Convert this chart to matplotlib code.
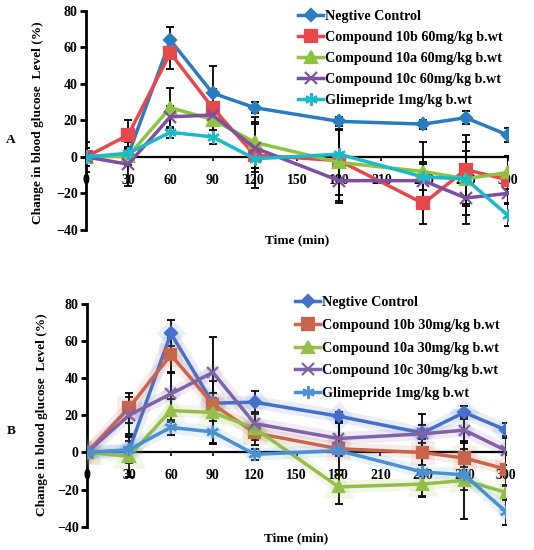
import matplotlib.pyplot as plt
import matplotlib.patheffects as pe

plt.rcParams['font.family'] = ['Liberation Serif', 'DejaVu Serif']
plt.rcParams['font.weight'] = 'bold'

time_min = [0, 30, 60, 90, 120, 180, 240, 270, 300]
x_ticks = [0, 30, 60, 90, 120, 150, 180, 210, 240, 270, 300]
y_ticks = [-40, -20, 0, 20, 40, 60, 80]

# panel A (60 mg/kg)
labels_a = ["Negtive Control", "Compound 10b 60mg/kg b.wt", "Compound 10a 60mg/kg b.wt",
            "Compound 10c 60mg/kg b.wt", "Glimepride 1mg/kg b.wt"]
neg_a = [0, 1, 64, 35, 27, 19.5, 18, 21.5, 12]
c10b_a = [0, 12, 57, 27, 1, -2, -25.5, -7, -12.5]
c10a_a = [0, 0.5, 27, 20.5, 8, -3, -8, -12, -8.5]
c10c_a = [0, -4, 22, 23, 5, -13, -13, -22.5, -20]
glim_a = [0, 2, 13.5, 11, -1, 1.5, -11, -12, -32]
err_neg_a = [3, 4, 7, 15, 3, 2.5, 2.5, 3.5, 4]
err_c10b_a = [8, 8, 9, 10, 18, 22, 11, 19, 13]
err_c10a_a = [5, 5, 11, 9, 14, 18, 16, 15, 9]
err_c10c_a = [5, 12, 6, 12, 13, 12, 10, 14, 6]
err_glim_a = [3, 3, 3, 4, 5, 14, 7, 20, 6]

# panel B (30 mg/kg)
labels_b = ["Negtive Control", "Compound 10b 30mg/kg b.wt", "Compound 10a 30mg/kg b.wt",
            "Compound 10c 30mg/kg b.wt", "Glimepride 1mg/kg b.wt"]
neg_b = [0, 1, 64, 26.5, 27, 19.5, 10.5, 21.5, 12]
c10b_b = [0, 24, 52.5, 26, 10.5, 2, 0, -3, -9]
c10a_b = [0, -2, 22.5, 21.5, 13, -18.5, -17, -15, -21.5]
c10c_b = [0, 20, 31.5, 43, 15.5, 7.5, 10, 12, 1]
glim_b = [0, 1.5, 13.5, 11, -1, 1, -10.5, -12, -32]
err_neg_b = [3, 5, 7, 3, 6, 2.5, 10, 3.5, 4]
err_c10b_b = [3, 8, 9, 6, 4, 14, 7, 5, 9]
err_c10a_b = [2, 11, 6, 17, 9, 9, 7, 21, 4]
err_c10c_b = [2, 10, 11, 19, 5, 9, 5, 7, 8]
err_glim_b = [2, 7, 4, 6, 3, 3, 13, 8, 7]

colors_a = ['#2A7BBF', '#E8474C', '#8DC43F', '#7F4F9F', '#1DB9C8']
colors_b = ['#4470CC', '#C9654A', '#96BE4A', '#8062A6', '#4A90D2']
markers = ['D', 's', '^', 'x', (6, 2, 0)]
msizes = [6, 8, 8, 8, 9]

TICK_FS = 10
LEG_FS = 10.2
LAB_FS = 9.6


def drawPanel(ax, series, errors, labels, colors, glow):
    """Draw one panel with error bars and lines"""
    for vals, err in zip(series, errors):
        ax.errorbar(time_min, vals, yerr=err, fmt='none', ecolor='k',
                    elinewidth=1.3, capsize=3, capthick=1.3, zorder=2)
    for vals, lab, col, mk, ms in zip(series, labels, colors, markers, msizes):
        line, = ax.plot(time_min, vals, color=col, marker=mk, markersize=ms,
                        markeredgewidth=1.6, linewidth=2.5, label=lab, zorder=3)
        if glow:
            line.set_path_effects([pe.Stroke(linewidth=9, foreground=col, alpha=0.12), pe.Normal()])

    ax.set_xlim(0, 300)
    ax.set_ylim(-40, 80)
    ax.set_xticks(x_ticks)
    ax.set_yticks(y_ticks)
    ax.spines['bottom'].set_position(('data', 0))
    ax.spines['top'].set_visible(False)
    ax.spines['right'].set_visible(False)
    ax.spines['left'].set_linewidth(2)
    ax.spines['bottom'].set_linewidth(1.6)
    ax.tick_params(axis='y', direction='out', length=4, width=2, labelsize=TICK_FS, pad=2)
    ax.tick_params(axis='x', direction='out', length=3, width=1.2, labelsize=TICK_FS, pad=9)
    for t in ax.get_xticklabels() + ax.get_yticklabels():
        t.set_fontweight('bold')
    ax.set_facecolor('none')


fig = plt.figure(figsize=(5.34, 5.5), dpi=100)
fig.set_facecolor('w')

axA = fig.add_axes([0.161, 0.582, 0.790, 0.398])
axB = fig.add_axes([0.163, 0.042, 0.785, 0.406])

drawPanel(axA, [neg_a, c10b_a, c10a_a, c10c_a, glim_a],
          [err_neg_a, err_c10b_a, err_c10a_a, err_c10c_a, err_glim_a],
          labels_a, colors_a, False)
drawPanel(axB, [neg_b, c10b_b, c10a_b, c10c_b, glim_b],
          [err_neg_b, err_c10b_b, err_c10a_b, err_c10c_b, err_glim_b],
          labels_b, colors_b, True)

legA = axA.legend(loc='upper left', bbox_to_anchor=(0.489, 1.031), frameon=False,
                  fontsize=LEG_FS, handlelength=1.8, handletextpad=0.1, labelspacing=0.56,
                  borderaxespad=0)
legB = axB.legend(loc='upper left', bbox_to_anchor=(0.482, 1.058), frameon=False,
                  fontsize=LEG_FS, handlelength=1.8, handletextpad=0.1, labelspacing=0.68,
                  borderaxespad=0)
for leg in (legA, legB):
    for t in leg.get_texts():
        t.set_fontweight('bold')
    for h in leg.get_lines():
        h.set_path_effects([])

ylab = "Change in blood glucose  Level (%)"
fig.text(38 / 534, 1 - 123 / 550, ylab, rotation=90,
         ha='center', va='center', fontsize=LAB_FS, fontweight='bold')
fig.text(42 / 534, 1 - 415 / 550, ylab, rotation=90,
         ha='center', va='center', fontsize=LAB_FS, fontweight='bold')
fig.text(11 / 534, 1 - 140 / 550, "A", ha='center', va='center', fontsize=LAB_FS, fontweight='bold')
fig.text(11 / 534, 1 - 431 / 550, "B", ha='center', va='center', fontsize=LAB_FS, fontweight='bold')
fig.text(297 / 534, 1 - 240 / 550, "Time (min)", ha='center', va='center', fontsize=LAB_FS, fontweight='bold')
fig.text(296 / 534, 1 - 538 / 550, "Time (min)", ha='center', va='center', fontsize=LAB_FS, fontweight='bold')

fig.savefig("out.png", dpi=100)
